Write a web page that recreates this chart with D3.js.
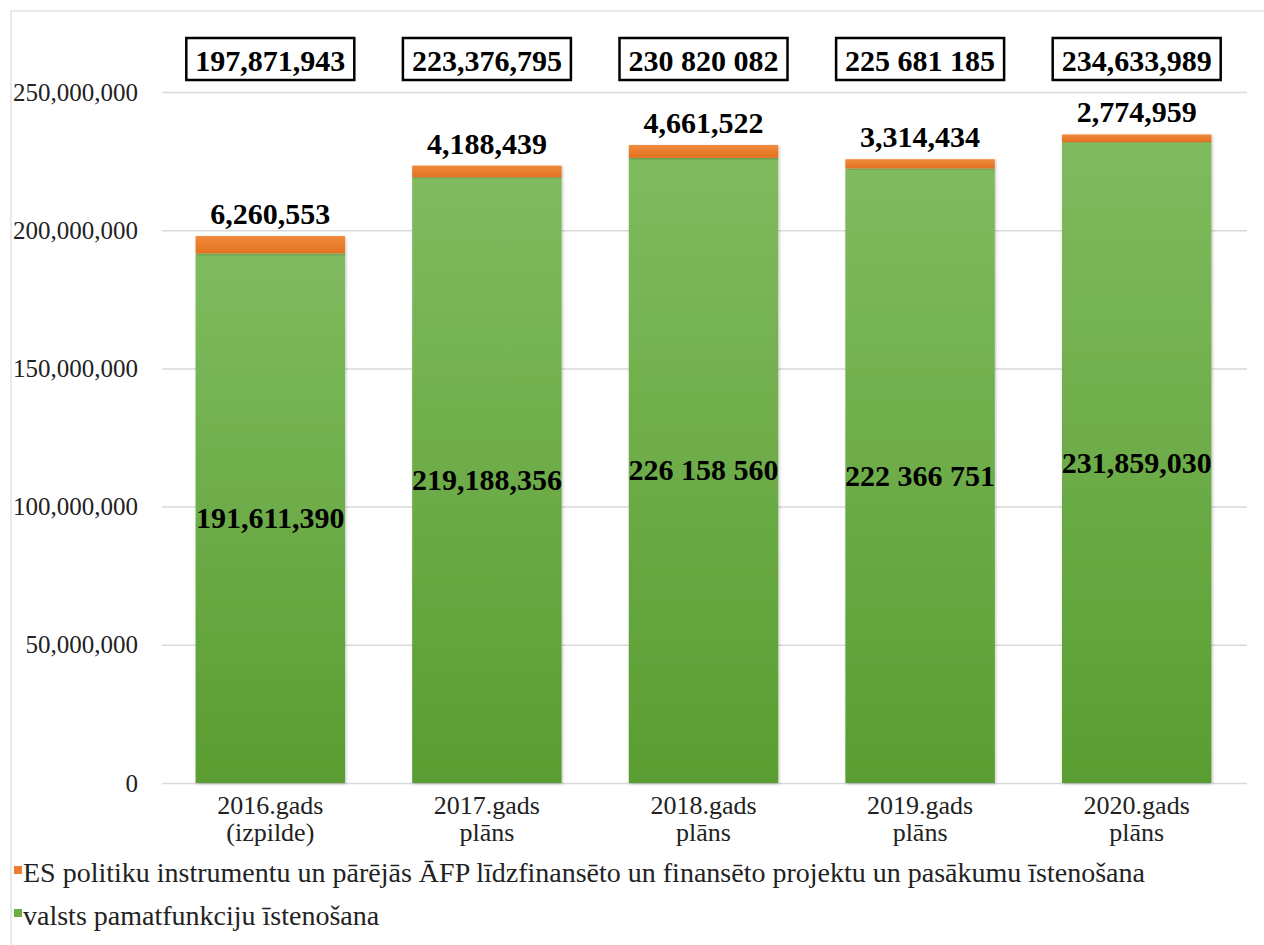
<!DOCTYPE html>
<html>
<head>
<meta charset="utf-8">
<script src="https://cdn.jsdelivr.net/npm/d3@7"></script>
<style>
  body { margin: 0; background: #fff; }
  svg { display: block; }
</style>
</head>
<body>
<svg id="chart" width="1264" height="945"></svg>
<script>
// data
var years = ["2016.gads", "2017.gads", "2018.gads", "2019.gads", "2020.gads"];
var subLabels = ["(izpilde)", "plāns", "plāns", "plāns", "plāns"];
var base = [191611390, 219188356, 226158560, 222366751, 231859030];
var baseText = ["191,611,390", "219,188,356", "226 158 560", "222 366 751", "231,859,030"];
var eu = [6260553, 4188439, 4661522, 3314434, 2774959];
var euText = ["6,260,553", "4,188,439", "4,661,522", "3,314,434", "2,774,959"];
var totalText = ["197,871,943", "223,376,795", "230 820 082", "225 681 185", "234,633,989"];
var yTicks = [0, 50000000, 100000000, 150000000, 200000000, 250000000];
var legendNames = [
    "ES politiku instrumentu un pārējās ĀFP līdzfinansēto un finansēto projektu un pasākumu īstenošana",
    "valsts pamatfunkciju īstenošana"
];

var FONT = "Liberation Serif, Times New Roman, serif";
var svg = d3.select("#chart").attr("font-family", FONT);

var defs = svg.append("defs");
var gG = defs.append("linearGradient").attr("id", "gGreen").attr("x1", 0).attr("y1", 0).attr("x2", 0).attr("y2", 1);
gG.append("stop").attr("offset", "0%").attr("stop-color", "#80bb5f");
gG.append("stop").attr("offset", "100%").attr("stop-color", "#5a9d31");
var gO = defs.append("linearGradient").attr("id", "gOrange").attr("x1", 0).attr("y1", 0).attr("x2", 0).attr("y2", 1);
gO.append("stop").attr("offset", "0%").attr("stop-color", "#f28a3c");
gO.append("stop").attr("offset", "100%").attr("stop-color", "#e2711f");
var sh = defs.append("filter").attr("id", "shadow").attr("x", "-10%").attr("y", "-10%").attr("width", "120%").attr("height", "120%");
sh.append("feDropShadow").attr("dx", 1).attr("dy", 1).attr("stdDeviation", 1.5).attr("flood-color", "#000").attr("flood-opacity", 0.25);

// outer frame (top and left edges visible)
svg.append("line").attr("x1", 11).attr("x2", 1264).attr("y1", 11).attr("y2", 11).attr("stroke", "#e2e2e2").attr("stroke-width", 1.5);
svg.append("line").attr("x1", 11).attr("x2", 11).attr("y1", 11).attr("y2", 945).attr("stroke", "#e2e2e2").attr("stroke-width", 1.5);

var x = d3.scaleBand().domain(years).range([162, 1245]).paddingInner(0.31).paddingOuter(0.155);
var y = d3.scaleLinear().domain([0, 250000000]).range([783, 92]);

// grid + y labels
var yAxis = d3.axisLeft(y).tickValues(yTicks).tickSize(-(1247 - 162)).tickPadding(24).tickFormat(d3.format(","));
var ga = svg.append("g").attr("transform", "translate(162,0)").call(yAxis).attr("font-family", FONT);
ga.select(".domain").remove();
ga.selectAll(".tick line").attr("x1", 0).attr("x2", 1247 - 162).attr("stroke", "#d9d9d9").attr("stroke-width", 1.5);
ga.selectAll(".tick text").attr("font-size", 25).attr("fill", "#222").attr("dy", "0.32em");

// bars
var cat = svg.append("g");
years.forEach(function (yr, i) {
    var x0 = x(yr), w = x.bandwidth();
    cat.append("rect").attr("x", x0).attr("width", w)
        .attr("y", y(base[i])).attr("height", y(0) - y(base[i]))
        .attr("fill", "url(#gGreen)").attr("filter", "url(#shadow)");
    cat.append("rect").attr("x", x0).attr("width", w)
        .attr("y", y(base[i] + eu[i])).attr("height", y(base[i]) - y(base[i] + eu[i]))
        .attr("fill", "url(#gOrange)").attr("filter", "url(#shadow)");
});

// labels inside green part
svg.selectAll(".baseLbl").data(years).enter().append("text")
    .attr("x", d => x(d) + x.bandwidth() / 2)
    .attr("y", (d, i) => (y(0) + y(base[i])) / 2 + 10)
    .attr("text-anchor", "middle").attr("font-size", 30).attr("font-weight", "bold")
    .text((d, i) => baseText[i]);

// labels above orange part
svg.selectAll(".euLbl").data(years).enter().append("text")
    .attr("x", d => x(d) + x.bandwidth() / 2)
    .attr("y", (d, i) => y(base[i] + eu[i]) - 12)
    .attr("text-anchor", "middle").attr("font-size", 30).attr("font-weight", "bold")
    .text((d, i) => euText[i]);

// boxed totals
years.forEach(function (yr, i) {
    var cx = x(yr) + x.bandwidth() / 2;
    var g = svg.append("g");
    var box = g.append("rect");
    var t = g.append("text").attr("x", cx).attr("y", 71)
        .attr("text-anchor", "middle").attr("font-size", 30).attr("font-weight", "bold")
        .text(totalText[i]);
    var tw = t.node().getComputedTextLength();
    box.attr("x", cx - tw / 2 - 9).attr("y", 38)
        .attr("width", tw + 18).attr("height", 42)
        .attr("fill", "#fff").attr("stroke", "#000").attr("stroke-width", 2.5);
});

// category labels
years.forEach(function (yr, i) {
    var cx = x(yr) + x.bandwidth() / 2;
    svg.append("text").attr("x", cx).attr("y", 814).attr("text-anchor", "middle")
        .attr("font-size", 26).attr("fill", "#222").text(yr);
    svg.append("text").attr("x", cx).attr("y", 841).attr("text-anchor", "middle")
        .attr("font-size", 26).attr("fill", "#222").text(subLabels[i]);
});

// legend
var legColors = ["#ed7d31", "#70ad47"];
legendNames.forEach(function (n, i) {
    var ly = 882 + i * 43;
    svg.append("rect").attr("x", 14).attr("y", ly - 16).attr("width", 8).attr("height", 8).attr("fill", legColors[i]);
    svg.append("text").attr("x", 23).attr("y", ly).attr("font-size", 28).attr("fill", "#222").text(n);
});
</script>
</body>
</html>
